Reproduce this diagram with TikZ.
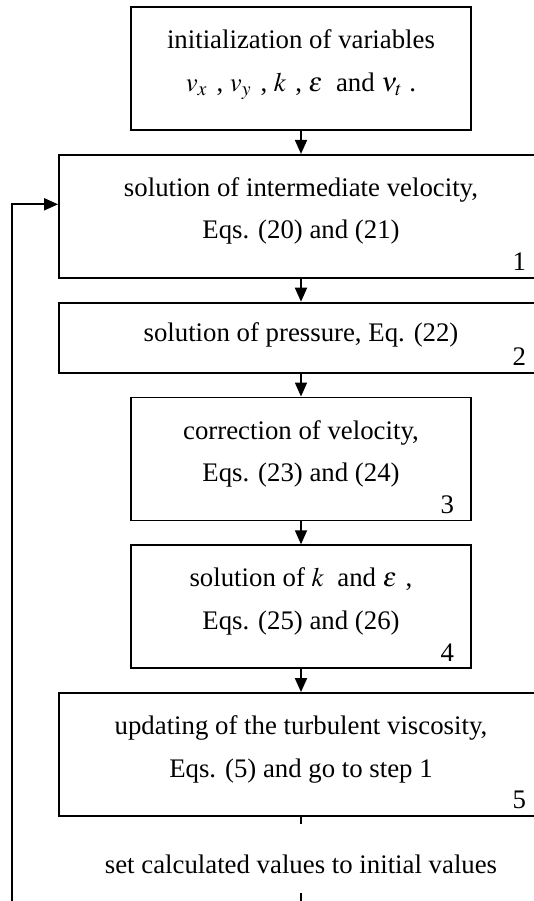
\documentclass[tikz,border=0pt]{standalone}
\usepackage{mathptmx}
\usepackage{fontspec}
\setmainfont{Liberation Serif}
\usetikzlibrary{positioning,arrows.meta}
\begin{document}
\begin{tikzpicture}[
        >={Triangle[length=7pt,width=6pt]},
        line width=0.9pt,
        node distance=11.5pt,
        font=\fontsize{13.4}{21.25}\selectfont,
        box/.style={draw, align=center, minimum width=170pt, minimum height=61.5pt, text depth=8pt, inner sep=0pt},
        widebox/.style={box, minimum width=242pt},
        stepno/.style={anchor=base east, inner sep=0pt}
    ]
    \useasboundingbox (0,0) rectangle (267pt,-450.5pt);
    \clip (0,0) rectangle (267pt,-450.5pt);
    \node [box] (init) at (150.5pt,-34.25pt) {initialization of variables\\ $v_x$\,\,, $v_y$\,\,, $k$\,\,, $\varepsilon$\ \ and $\nu_t$\ .};
    \node [widebox, below=of init] (velo) {solution of intermediate velocity,\\ Eqs. (20) and (21)};
    \node [widebox, below=of velo, minimum height=35pt, text depth=6pt] (pres) {solution of pressure, Eq. (22)};
    \node [box, below=of pres] (corr) {correction of velocity,\\ Eqs. (23) and (24)};
    \node [box, below=of corr] (keps) {solution of $k$\ \ and $\varepsilon$\,\,,\\ Eqs. (25) and (26)};
    \node [widebox, below=of keps] (visc) {updating of the turbulent viscosity,\\ Eqs. (5) and go to step 1};
    \node [below=3.5pt of visc, inner ysep=0pt, text height=24.5pt, text depth=9pt] (reset) {set calculated values to initial values};
    \coordinate (loopend) at (6pt,-460pt);
    % step numbers
    \node [stepno] (n1) at ([shift={(-8.5pt,4pt)}]velo.south east) {1};
    \node [stepno] (n2) at ([shift={(-8.5pt,4pt)}]pres.south east) {2};
    \node [stepno] (n3) at ([shift={(-8.5pt,4pt)}]corr.south east) {3};
    \node [stepno] (n4) at ([shift={(-8.5pt,4pt)}]keps.south east) {4};
    \node [stepno] (n5) at ([shift={(-8.5pt,4pt)}]visc.south east) {5};
    \draw [->] (init) -- (velo);
    \draw [->] (velo) -- (pres);
    \draw [->] (pres) -- (corr);
    \draw [->] (corr) -- (keps);
    \draw [->] (keps) -- (visc);
    \draw (visc) -- (reset);
    \draw [->] (reset.south) |- (loopend) |- ([yshift=6pt]velo.west);
\end{tikzpicture}
\end{document}
